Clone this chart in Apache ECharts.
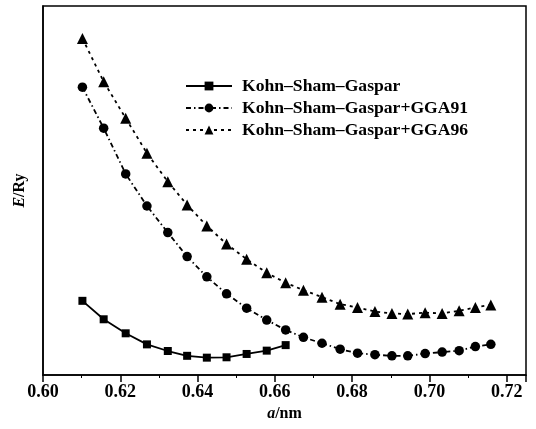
<!DOCTYPE html>
<html>
<head>
<meta charset="utf-8">
<script src="https://cdn.jsdelivr.net/npm/echarts@6/dist/echarts.min.js"></script>
<style>html,body{margin:0;padding:0;background:#fff}#c{width:536px;height:429px}</style>
</head>
<body>
<div id="c"></div>
<script>
// lattice constant a / nm
var aValues = [0.6102, 0.6157, 0.6214, 0.6269, 0.6323, 0.6373, 0.6424, 0.6475, 0.6527, 0.6579, 0.6628,
               0.6674, 0.6722, 0.6769, 0.6814, 0.6859, 0.6903, 0.6944, 0.6989, 0.7033, 0.7077, 0.7119, 0.7159];
// energies (arbitrary relative units, axis unlabeled)
var eKSG = [20.1, 15.1, 11.3, 8.3, 6.5, 5.2, 4.7, 4.8, 5.7, 6.6, 8.1];
var eGGA91 = [78.0, 66.9, 54.5, 45.8, 38.6, 32.1, 26.6, 22.0, 18.1, 14.9, 12.2,
              10.2, 8.6, 7.0, 5.9, 5.5, 5.2, 5.2, 5.8, 6.2, 6.6, 7.7, 8.3];
var eGGA96 = [91.2, 79.5, 69.6, 60.1, 52.4, 46.1, 40.4, 35.5, 31.4, 27.7, 25.0,
              23.0, 21.1, 19.2, 18.3, 17.2, 16.7, 16.5, 16.9, 16.7, 17.4, 18.3, 19.0];
var seriesNames = ['Kohn–Sham–Gaspar', 'Kohn–Sham–Gaspar+GGA91', 'Kohn–Sham–Gaspar+GGA96'];
var xTickLabels = ['0.60', '0.62', '0.64', '0.66', '0.68', '0.70', '0.72'];

function zip(xs, ys) { return ys.map(function (y, i) { return [xs[i], y]; }); }

var font = 'Liberation Serif';
var chart = echarts.init(document.getElementById('c'), null, { renderer: 'canvas' });
chart.setOption({
  animation: false,
  backgroundColor: '#fff',
  grid: { left: 43, right: 10, top: 6, bottom: 54, show: true, borderColor: '#000', borderWidth: 1.5 },
  legend: {
    orient: 'vertical', left: 180, top: 72,
    itemWidth: 46, itemHeight: 11, itemGap: 4,
    textStyle: { fontFamily: font, fontSize: 17.6, fontWeight: 'bold', color: '#000', padding: [0, 0, 0, 5] },
    data: seriesNames
  },
  xAxis: {
    type: 'value', min: 0.6, max: 0.725, interval: 0.02,
    name: '{i|a}/nm', nameLocation: 'middle', nameGap: 17,
    nameTextStyle: { fontFamily: font, fontSize: 16, fontWeight: 'bold', color: '#000',
      rich: { i: { fontFamily: font, fontSize: 16, fontStyle: 'italic', fontWeight: 'bold', color: '#000' } } },
    axisLine: { lineStyle: { color: '#000', width: 1.5 } },
    axisTick: { show: true, inside: false, length: 7, lineStyle: { color: '#000', width: 1.5 } },
    minorTick: { show: true, splitNumber: 2, length: 3, lineStyle: { color: '#000', width: 1 } },
    splitLine: { show: false },
    axisLabel: {
      showMaxLabel: false, margin: 8,
      fontFamily: font, fontSize: 18, fontWeight: 'bold', color: '#000',
      formatter: function (v) {
        var s = v.toFixed(2);
        return xTickLabels.indexOf(s) >= 0 ? s : '';
      }
    }
  },
  yAxis: {
    type: 'value', min: 0, max: 100,
    name: '{i|E}/Ry', nameLocation: 'middle', nameGap: 15,
    nameTextStyle: { fontFamily: font, fontSize: 16, fontWeight: 'bold', color: '#000',
      rich: { i: { fontFamily: font, fontSize: 16, fontStyle: 'italic', fontWeight: 'bold', color: '#000' } } },
    axisLine: { show: true, lineStyle: { color: '#000', width: 1.5 } },
    axisTick: { show: false },
    axisLabel: { show: false },
    splitLine: { show: false }
  },
  series: [
    {
      name: seriesNames[0], type: 'line', data: zip(aValues, eKSG),
      symbol: 'rect', symbolSize: 8, showAllSymbol: true,
      lineStyle: { color: '#000', width: 1.8, type: 'solid' },
      itemStyle: { color: '#000' }
    },
    {
      name: seriesNames[1], type: 'line', data: zip(aValues, eGGA91),
      symbol: 'circle', symbolSize: 9.5, showAllSymbol: true,
      lineStyle: { color: '#000', width: 1.8, type: [5, 3, 1.5, 3] },
      itemStyle: { color: '#000' }
    },
    {
      name: seriesNames[2], type: 'line', data: zip(aValues, eGGA96),
      symbol: 'triangle', symbolSize: 11, showAllSymbol: true,
      lineStyle: { color: '#000', width: 1.8, type: [3, 4] },
      itemStyle: { color: '#000' }
    }
  ]
});
</script>
</body>
</html>
